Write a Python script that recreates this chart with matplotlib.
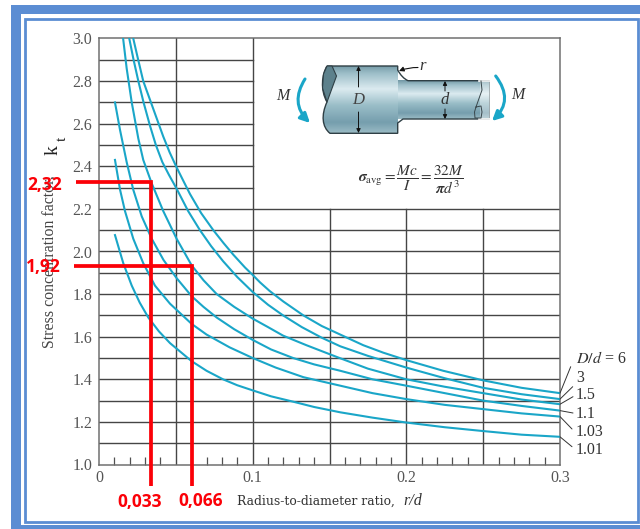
import numpy as np
import matplotlib
matplotlib.use("Agg")
import matplotlib.pyplot as plt
from matplotlib.patches import Rectangle, PathPatch, FancyArrowPatch, Polygon
from matplotlib.path import Path

# curves, r/d and Kt for each D/d
x_6 = [0.0223, 0.0255, 0.0288, 0.0343, 0.0418, 0.046, 0.0505, 0.055, 0.0592, 0.0665, 0.0744, 0.081, 0.0874, 0.095, 0.1, 0.1048, 0.111, 0.12, 0.133, 0.145, 0.157, 0.172, 0.185, 0.2, 0.224, 0.25, 0.275, 0.3]
y_6 = [3.0, 2.90, 2.80, 2.69, 2.54, 2.465, 2.395, 2.33, 2.27, 2.18, 2.10, 2.04, 1.985, 1.925, 1.89, 1.855, 1.815, 1.765, 1.70, 1.65, 1.61, 1.56, 1.525, 1.49, 1.44, 1.395, 1.36, 1.335]
x_3 = [0.0197, 0.0225, 0.0256, 0.029, 0.0332, 0.037, 0.0412, 0.0455, 0.0505, 0.058, 0.0657, 0.073, 0.0807, 0.09, 0.1, 0.11, 0.1198, 0.132, 0.145, 0.157, 0.175, 0.2, 0.225, 0.25, 0.275, 0.3]
y_3 = [3.0, 2.90, 2.80, 2.70, 2.59, 2.50, 2.42, 2.36, 2.295, 2.19, 2.10, 2.025, 1.955, 1.88, 1.81, 1.75, 1.70, 1.645, 1.595, 1.555, 1.51, 1.455, 1.405, 1.36, 1.33, 1.307]
x_15 = [0.0157, 0.018, 0.0213, 0.0256, 0.0288, 0.0343, 0.0418, 0.0505, 0.0603, 0.068, 0.0766, 0.088, 0.1, 0.11, 0.1198, 0.135, 0.1547, 0.175, 0.2, 0.225, 0.25, 0.275, 0.3]
y_15 = [3.0, 2.86, 2.70, 2.53, 2.43, 2.32, 2.19, 2.06, 1.935, 1.865, 1.80, 1.74, 1.685, 1.645, 1.605, 1.56, 1.505, 1.45, 1.40, 1.365, 1.335, 1.305, 1.283]
x_11 = [0.0104, 0.0137, 0.018, 0.0223, 0.0278, 0.0343, 0.042, 0.0505, 0.0603, 0.068, 0.0766, 0.088, 0.1, 0.112, 0.1263, 0.14, 0.157, 0.178, 0.2, 0.225, 0.25, 0.275, 0.3]
y_11 = [2.70, 2.57, 2.42, 2.29, 2.165, 2.06, 1.96, 1.875, 1.79, 1.74, 1.69, 1.635, 1.585, 1.54, 1.50, 1.47, 1.44, 1.40, 1.37, 1.335, 1.30, 1.275, 1.253]
x_103 = [0.0104, 0.0137, 0.0169, 0.0223, 0.0288, 0.0364, 0.0462, 0.0603, 0.07, 0.085, 0.1, 0.115, 0.133, 0.157, 0.178, 0.2, 0.225, 0.25, 0.275, 0.3]
y_103 = [2.43, 2.29, 2.19, 2.06, 1.945, 1.84, 1.755, 1.66, 1.61, 1.55, 1.50, 1.455, 1.41, 1.37, 1.335, 1.307, 1.28, 1.26, 1.24, 1.225]
x_101 = [0.0104, 0.0158, 0.0213, 0.0265, 0.0321, 0.039, 0.0462, 0.0603, 0.07, 0.0807, 0.09, 0.1, 0.112, 0.1263, 0.14, 0.157, 0.178, 0.2, 0.225, 0.25, 0.275, 0.3]
y_101 = [2.077, 1.945, 1.84, 1.76, 1.69, 1.625, 1.57, 1.485, 1.44, 1.40, 1.372, 1.348, 1.32, 1.295, 1.27, 1.245, 1.22, 1.197, 1.175, 1.157, 1.14, 1.13]
curves = [(x_6, y_6), (x_3, y_3), (x_15, y_15), (x_11, y_11), (x_103, y_103), (x_101, y_101)]

ratio_labels = ["$\\mathit{D/d}$ = 6", "3", "1.5", "1.1", "1.03", "1.01"]
label_y = [359, 378, 395, 414, 431.5, 449.5]
leader_end = [(570.7, 366.7), (572.7, 386.7), (573, 396.7), (573, 413), (572, 429), (572, 446.7)]

xtick_vals = [0, 0.1, 0.2, 0.3]
xtick_labels = ["0", "0.1", "0.2", "0.3"]
ytick_vals = [1.0, 1.2, 1.4, 1.6, 1.8, 2.0, 2.2, 2.4, 2.6, 2.8, 3.0]

# red reading lines
red_x = [0.0338, 0.0603]
red_y = [2.328, 1.934]
red_left = [-0.015, -0.0163]
red_bottom = 0.899

W, H = 640, 529
CYAN = "#1aa6c8"
BLUE = "#5b8dd3"
GREY = "#555555"
plt.rcParams["font.family"] = ["Liberation Serif", "DejaVu Serif"]
plt.rcParams["mathtext.fontset"] = "stix"

fig = plt.figure(figsize=(W / 100, H / 100), dpi=100)
ax = fig.add_axes([99 / W, (H - 464.5) / H, 461 / W, 426 / H])
ax.set_xlim(0, 0.3)
ax.set_ylim(1.0, 3.0)

# the grid stops at r/d = 0.1 above Kt = 2.2
for v in np.arange(1.1, 3.0, 0.1):
    ax.plot([0, 0.3 if v < 2.25 else 0.1], [v, v], color="#454545", lw=1.0, zorder=1)
for v in [0.05, 0.1]:
    ax.plot([v, v], [1, 3], color="#454545", lw=1.0, zorder=1)
for v in [0.15, 0.2, 0.25]:
    ax.plot([v, v], [1, 2.2], color="#454545", lw=1.0, zorder=1)

for cx, cy in curves:
    ax.plot(cx, cy, color=CYAN, lw=1.5, zorder=3)

ax.set_xticks(xtick_vals)
ax.set_xticklabels(xtick_labels)
ax.set_yticks(ytick_vals)
ax.set_yticklabels(["%.1f" % v for v in ytick_vals])
ax.set_xticks([v / 100 for v in range(1, 30) if v % 5 != 0], minor=True)
ax.tick_params(axis="both", which="major", length=0, labelsize=11.5, labelcolor=GREY)
ax.tick_params(axis="x", which="major", pad=4)
ax.tick_params(axis="y", which="major", pad=5)
ax.tick_params(axis="x", which="minor", direction="in", length=6, width=0.9, color="#505050")
for s in ax.spines.values():
    s.set_color("#707070")
    s.set_linewidth(1.1)

# leaders from the curve ends to the D/d labels
for (cx, cy), (px, py) in zip(curves, leader_end):
    ax.annotate("", xy=(cx[-1], cy[-1]), xycoords="data", xytext=(px, H - py), textcoords="figure pixels",
                arrowprops=dict(arrowstyle="-", lw=0.7, color="#333333", shrinkA=0, shrinkB=0))

# overlay in pixels for the frame, shaft and loose text
ov = fig.add_axes([0, 0, 1, 1], zorder=5)
ov.set_xlim(0, W)
ov.set_ylim(H, 0)
ov.axis("off")
ov.patch.set_alpha(0)

# blue frame
ov.fill([11, W, W, 11], [4.5, 4.5, 14, 14], color=BLUE, lw=0)
ov.fill([11, 20.5, 20.5, 11], [4.5, 4.5, H, H], color=BLUE, lw=0)
ov.fill([11, W, W, 11], [524.5, 524.5, 528.7, 528.7], color=BLUE, lw=0)
ov.add_patch(Rectangle((24.5, 18.5), 613, 503, fc="none", ec=BLUE, lw=2))

# shaft
verts = [(327, 66), (397.7, 66), (397.7, 70), (402, 78), (408, 80.7), (490, 80.7), (490, 119), (403, 119),
         (397.7, 123), (397.7, 133.3), (330, 133.3), (322, 127), (321, 115), (327, 102), (320, 90), (322, 74), (327, 66)]
codes = [Path.MOVETO, Path.LINETO, Path.LINETO, Path.CURVE3, Path.CURVE3, Path.LINETO, Path.LINETO, Path.LINETO,
         Path.LINETO, Path.LINETO, Path.LINETO, Path.CURVE4, Path.CURVE4, Path.CURVE4, Path.CURVE4, Path.CURVE4, Path.CURVE4]
shade_stops = [0.0, 0.12, 0.35, 0.6, 0.85, 1.0]
shade_vals = [[0.45, 0.60, 0.65], [0.62, 0.75, 0.79], [0.86, 0.92, 0.94], [0.60, 0.74, 0.78], [0.46, 0.62, 0.68], [0.60, 0.73, 0.77]]
t = np.linspace(0, 1, 64)
grad = np.stack([np.interp(t, shade_stops, [c[i] for c in shade_vals]) for i in range(3)], axis=1)[:, None, :]
big = ov.imshow(grad, extent=(318, 398, 133.3, 66), aspect="auto", zorder=2)
big.set_clip_path(Path(verts, codes), ov.transData)
small = ov.imshow(grad, extent=(398, 490, 119, 80.7), aspect="auto", zorder=2)
small.set_clip_path(Path(verts, codes), ov.transData)
ov.set_xlim(0, W)
ov.set_ylim(H, 0)
ov.add_patch(PathPatch(Path(verts, codes), fc="none", ec="#2f3f45", lw=1.0, zorder=3))
ov.add_patch(Rectangle((480, 81.5), 10.5, 37, fc="white", alpha=0.35, lw=0, zorder=3))
ov.plot([479, 490.5], [80.7, 80.7], color="white", lw=1.2, zorder=4)
ov.plot([479, 490.5], [119, 119], color="white", lw=1.2, zorder=4)
ov.plot([490.3, 490.3], [80, 120], color="white", lw=1, zorder=4)
ov.add_patch(Polygon([(327, 66), (323.5, 74), (322.5, 88), (327, 102), (336.5, 76), (332, 66)], fc="#5d818c", ec="#2f3f45", lw=0.8, zorder=4))
# break line at the right end
ov.plot([481, 482, 476, 474.5, 475, 481, 482, 481, 476], [81, 90, 107, 112, 118, 118, 112, 106, 107], color="#39474c", lw=0.7, zorder=4)

# dimension arrows
for x0, y0, y1 in [(358.5, 87, 66), (358.5, 112, 133), (445, 91, 81), (445, 109, 119)]:
    ov.annotate("", xy=(x0, y1), xytext=(x0, y0), arrowprops=dict(arrowstyle="-|>", lw=0.7, color="#111111", shrinkA=0, shrinkB=0, mutation_scale=6), zorder=5)
ov.text(358.5, 99.5, "D", fontsize=12, style="italic", ha="center", va="center", color="#444444", zorder=6)
ov.text(445, 99.5, "d", fontsize=12, style="italic", ha="center", va="center", color="#333333", zorder=6)
ov.annotate("", xy=(399, 71), xytext=(418, 67.5), arrowprops=dict(arrowstyle="-|>", lw=0.8, color="#111111", shrinkA=0, shrinkB=0, mutation_scale=7,
            connectionstyle="arc3,rad=0.1"), zorder=5)
ov.text(423, 66.5, "r", fontsize=12, style="italic", ha="center", va="center", color="#333333")

# moment arrows
ov.add_patch(FancyArrowPatch((495.7, 76), (492, 121), connectionstyle="arc3,rad=-0.45", arrowstyle="-|>", mutation_scale=14, lw=2.2, color=CYAN, shrinkA=0, shrinkB=0, zorder=6))
ov.add_patch(FancyArrowPatch((305, 79), (310, 123), connectionstyle="arc3,rad=0.4", arrowstyle="-|>", mutation_scale=14, lw=2.2, color=CYAN, shrinkA=0, shrinkB=0, zorder=6))
ov.text(283, 95.5, "M", fontsize=11.5, style="italic", ha="center", va="center", color="#333333")
ov.text(518, 95, "M", fontsize=11.5, style="italic", ha="center", va="center", color="#333333")

# formula
ov.text(411, 180.5, r"$\boldsymbol{\sigma}_{\mathrm{avg}} = \dfrac{Mc}{I} = \dfrac{32M}{\boldsymbol{\pi} d^{3}}$",
        fontsize=11, ha="center", va="center", color="#333333")

# axis titles
ov.text(237, 501, "Radius-to-diameter ratio,", family=["DejaVu Serif"], fontsize=8.9, ha="left", va="center", color="#333333")
ov.text(403, 501, "r/d", fontsize=11.5, style="italic", ha="left", va="center", color="#333333")
ov.text(51, 260, "Stress concentration factor, ", fontsize=11.4, rotation=90, ha="center", va="center", color="#444444")
ov.text(53, 150, "k", fontsize=14, rotation=90, ha="center", va="center", color="#222222")
ov.text(62, 139, "t", fontsize=11, rotation=90, ha="center", va="center", color="#222222")

for lab, ly in zip(ratio_labels, label_y):
    ov.text(576, ly, lab, fontsize=11.5, ha="left", va="center", color="#333333")

# red reading lines and values
for rx, ry, rl in zip(red_x, red_y, red_left):
    ax.plot([rl, rx, rx], [ry, ry, red_bottom], color="#fb0007", lw=2.7, solid_joinstyle="miter", solid_capstyle="butt", clip_on=False, zorder=6)
red_font = dict(family="Open Sans", weight="bold", fontsize=12.5, color="#fb0007", ha="center", va="center", zorder=8)
ov.text(45, 185, "2,32", **red_font)
ov.text(43, 267, "1,92", **red_font)
ov.text(139.5, 502, "0,033", **red_font)
ov.text(200.5, 501, "0,066", **red_font)

fig.savefig("out.png", dpi=100, facecolor="white")
